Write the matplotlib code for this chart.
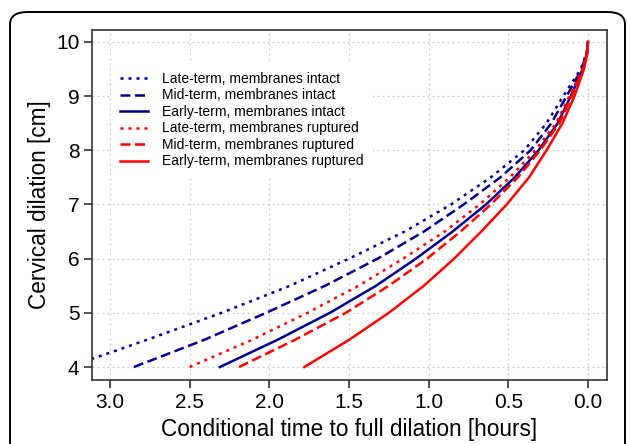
import matplotlib
matplotlib.use('Agg')
import matplotlib.pyplot as plt
from matplotlib.patches import FancyBboxPatch

plt.rcParams['font.family'] = ['Liberation Sans', 'DejaVu Sans']

# Dilation levels [cm] and conditional time to full dilation [hours] per group
dilation = [4.0, 4.5, 5.0, 5.5, 6.0, 6.5, 7.0, 7.5, 8.0, 8.5, 9.0, 9.5, 9.8, 10.0]

late_intact = [3.26, 2.77, 2.30, 1.87, 1.50, 1.15, 0.86, 0.61, 0.40, 0.26, 0.155, 0.045, 0.008, 0.0]
mid_intact = [2.85, 2.41, 2.02, 1.65, 1.32, 1.03, 0.78, 0.55, 0.36, 0.23, 0.134, 0.040, 0.007, 0.0]
early_intact = [2.31, 1.95, 1.62, 1.33, 1.08, 0.85, 0.64, 0.46, 0.31, 0.19, 0.108, 0.033, 0.006, 0.0]
late_ruptured = [2.50, 2.11, 1.76, 1.44, 1.16, 0.90, 0.68, 0.49, 0.33, 0.20, 0.117, 0.035, 0.006, 0.0]
mid_ruptured = [2.19, 1.84, 1.52, 1.25, 1.01, 0.80, 0.61, 0.44, 0.30, 0.18, 0.102, 0.031, 0.005, 0.0]
early_ruptured = [1.78, 1.50, 1.25, 1.03, 0.84, 0.67, 0.51, 0.37, 0.26, 0.16, 0.085, 0.025, 0.004, 0.0]

labels = ['Late-term, membranes intact', 'Mid-term, membranes intact',
          'Early-term, membranes intact', 'Late-term, membranes ruptured',
          'Mid-term, membranes ruptured', 'Early-term, membranes ruptured']

xticks = [3.0, 2.5, 2.0, 1.5, 1.0, 0.5, 0.0]
yticks = [4, 5, 6, 7, 8, 9, 10]

navy = '#00008B'
red = '#FF0000'
dotted = (0, (1.2, 2.0))
dashed = (0, (4.0, 1.8))
series = [
    (late_intact, navy, dotted),
    (mid_intact, navy, dashed),
    (early_intact, navy, '-'),
    (late_ruptured, red, dotted),
    (mid_ruptured, red, dashed),
    (early_ruptured, red, '-'),
]

fig = plt.figure(figsize=(6.27, 4.44), dpi=100)
ax = fig.add_axes([0.1467, 0.1441, 0.8213, 0.7883])

for (times, col, ls), lab in zip(series, labels):
    ax.plot(times, dilation, color=col, linestyle=ls, linewidth=1.8, label=lab)

ax.set_xlim(3.113, -0.119)
ax.set_ylim(3.76, 10.22)
ax.set_xticks(xticks)
ax.set_xticklabels(['%.1f' % v for v in xticks])
ax.set_yticks(yticks)
ax.grid(True, color='#cccccc', linestyle=(0, (1.5, 2.5)), linewidth=0.9)
ax.set_axisbelow(True)

for sp in ax.spines.values():
    sp.set_color('#333333')
    sp.set_linewidth(1.2)
ax.tick_params(direction='out', length=6, width=1.2, color='#333333',
               labelsize=15, pad=3)

ax.set_xlabel('Conditional time to full dilation [hours]', fontsize=16.3, labelpad=5)
ax.set_ylabel('Cervical dilation [cm]', fontsize=16.3, labelpad=4)

leg = ax.legend(loc='upper left', bbox_to_anchor=(0.036, 0.908), fontsize=10,
                frameon=True, fancybox=False, handlelength=2.0,
                handletextpad=1.0, labelspacing=0.18, borderpad=0.7,
                borderaxespad=0)
leg.get_frame().set_facecolor('white')
leg.get_frame().set_edgecolor('none')
leg.get_frame().set_alpha(1)

# rounded border around the whole panel (cut off at the bottom)
W, H = 627.0, 444.0
box = FancyBboxPatch((10 / W, -30 / H), 615 / W, (H - 12 + 30) / H,
                     boxstyle='round,pad=0,rounding_size=0.028',
                     transform=fig.transFigure, facecolor='none',
                     edgecolor='black', linewidth=1.4, clip_on=False)
fig.patches.append(box)

fig.savefig('out.png', dpi=100)
